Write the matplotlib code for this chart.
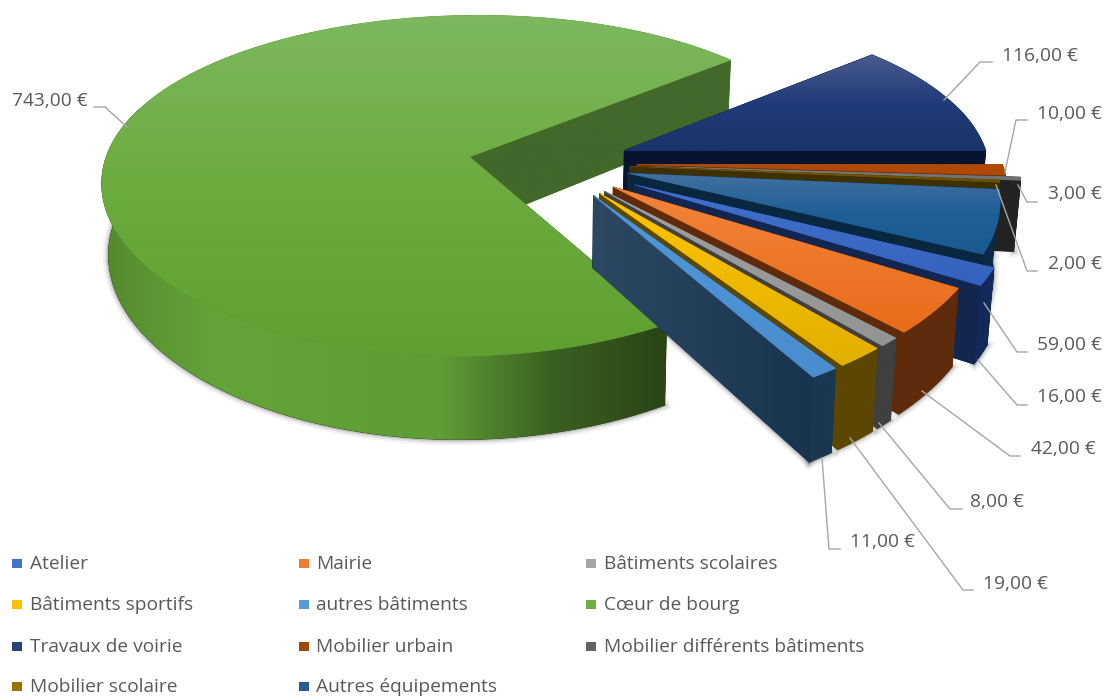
import matplotlib
matplotlib.use("Agg")
import matplotlib.pyplot as plt
import numpy as np
from matplotlib.colors import LinearSegmentedColormap
from matplotlib.patches import Polygon, Rectangle

plt.rcParams['font.family'] = ['Open Sans', 'DejaVu Sans']

categories = ["Atelier", "Mairie", "Bâtiments scolaires", "Bâtiments sportifs", "autres bâtiments",
              "Cœur de bourg", "Travaux de voirie", "Mobilier urbain", "Mobilier différents bâtiments",
              "Mobilier scolaire", "Autres équipements"]
values = [16, 42, 8, 19, 11, 743, 116, 10, 3, 2, 59]
legend_colors = ["#4472C4", "#ED7D31", "#A5A5A5", "#FFC000", "#5B9BD5", "#70AD47",
                 "#264478", "#9E480E", "#636363", "#997300", "#255E91"]

# shading of each slice: top gradient, outer wall, cut face
top_stops = [["#4272cc", "#3461bd"], ["#f2843a", "#e86c1a"], ["#a0a0a0", "#949494"],
             ["#ffc400", "#e2b000"], ["#4f97da", "#4a8dce"], ["#7db85f", "#6cab3e", "#60a033"],
             ["#4a5c8c", "#1f3b7a", "#1a3568"], ["#b34a08", "#b04808"], ["#808080", "#707070"],
             ["#7f6000", "#6a5000"], ["#44709f", "#1f5f98", "#185a90"]]
wall_stops = [["#12295a", "#12295a"], ["#5e2b0b", "#5e2b0b"], ["#404040", "#404040"],
              ["#5c4700", "#5c4700"], ["#1a3852", "#1a3852"],
              ["#558a2e", "#64a438", "#60a036", "#5f9d35", "#3a6020", "#2a4415"],
              ["#0a1a3c", "#0a1a3c"], ["#7a3206", "#7a3206"], ["#232323", "#232323"],
              ["#3f3000", "#3f3000"], ["#0b2a48", "#0b2a48"]]
cut_stops = [["#13264f", "#13264f"], ["#5e2b0b", "#5e2b0b"], ["#404040", "#404040"],
             ["#5c4700", "#5c4700"], ["#2d4863", "#17344f"], ["#42682a", "#42682a"],
             ["#071430", "#071430"], ["#7a3206", "#7a3206"], ["#232323", "#232323"],
             ["#3f3000", "#3f3000"], ["#0a2740", "#0a2740"]]

first_slice_angle = 116.0
draw_order = [5, 6, 7, 8, 9, 10, 0, 1, 2, 3, 4]

# projection
cx, cy = 549.0, 163.0
radius = 365.0
explode = [96, 81, 81, 81, 81, 81, 81, 88, 102, 81, 81]
tilt = 0.459
persp_x = 0.13
persp_y = 0.17
height = 70.0
lean = 0.015

# label text, x left, y centre, then leader line points
labels = [
    ("743,00 €", 12, 100, [(127, 127), (105, 107), (94, 107)]),
    ("116,00 €", 1002, 55, [(944, 100), (980, 62), (992, 62)]),
    ("10,00 €", 1037, 113, [(1005, 172), (1016, 120), (1027, 120)]),
    ("3,00 €", 1048, 193, [(1018, 185), (1027, 202), (1037, 202)]),
    ("2,00 €", 1048, 263, [(996, 185), (1027, 271), (1037, 271)]),
    ("59,00 €", 1037, 344, [(984, 303), (1017, 352), (1027, 352)]),
    ("16,00 €", 1037, 396, [(978, 360), (1017, 405), (1027, 405)]),
    ("42,00 €", 1031, 448, [(922, 391), (1010, 456), (1020, 456)]),
    ("8,00 €", 970, 501, [(879, 423), (950, 509), (962, 509)]),
    ("19,00 €", 983, 583, [(850, 438), (963, 590), (973, 590)]),
    ("11,00 €", 850, 541, [(822, 458), (829, 549), (840, 549)]),
]
legend_cols = [12, 299, 586]
legend_rows = [563, 604, 646, 686]


def project(x, y, z=0.0):
    sx = 1.0 / (1.0 + persp_x * y / radius)
    sy = 1.0 / (1.0 + persp_y * y / radius)
    return cx + x * sx * (1 - lean * z / height), cy - tilt * y * sy + z * sy


def gradient_fill(pts, stops, zorder, horizontal=False):
    pts = np.asarray(pts)
    # solid base under the gradient so no seam shows between faces
    ax.add_patch(Polygon(pts, closed=True, facecolor=stops[-1], edgecolor=stops[-1], lw=0.5, zorder=zorder))
    poly = Polygon(pts, closed=True, facecolor="none", edgecolor="none", zorder=zorder)
    ax.add_patch(poly)
    cmap = LinearSegmentedColormap.from_list("shade", stops)
    grad = np.linspace(0, 1, 256)
    grad = grad.reshape(1, -1) if horizontal else grad.reshape(-1, 1)
    im = ax.imshow(grad, cmap=cmap, aspect="auto", zorder=zorder, interpolation="bilinear",
                   extent=(pts[:, 0].min(), pts[:, 0].max(), pts[:, 1].max(), pts[:, 1].min()))
    im.set_clip_path(poly)


fig = plt.figure(figsize=(11.13, 6.98), dpi=100)
ax = fig.add_axes([0, 0, 1, 1])

total = sum(values)
angles = {}
a = 90.0 - first_slice_angle
for i, v in enumerate(values):
    angles[i] = (np.radians(a), np.radians(a - v / total * 360.0))
    a -= v / total * 360.0

zo = 2
for i in draw_order:
    a1, a2 = angles[i]
    mid = (a1 + a2) / 2
    ox = explode[i] * np.cos(mid)
    oy = explode[i] * np.sin(mid)
    t = np.linspace(a1, a2, max(12, int((a1 - a2) * 60)))
    xs = ox + radius * np.cos(t)
    ys = oy + radius * np.sin(t)
    top_x, top_y = project(np.r_[ox, xs], np.r_[oy, ys])
    rim_x, rim_y = project(xs, ys)
    low_x, low_y = project(xs, ys, height)

    # soft shadow under the base
    for lw, al in [(8, 0.05), (5, 0.08), (2.5, 0.14)]:
        ax.plot(low_x, low_y, color="#000000", lw=lw, alpha=al, zorder=1)
        if i == 4:
            ax.plot(*project(np.array([ox, xs[-1]]), np.array([oy, ys[-1]]), height),
                    color="#000000", lw=lw, alpha=al, zorder=1)

    # hidden cut face first, visible one after the wall
    for edge in (0, -1):
        quad = [project(ox, oy), project(xs[edge], ys[edge]),
                project(xs[edge], ys[edge], height), project(ox, oy, height)]
        if edge == -1:
            zo_cut = zo + 1
        else:
            zo_cut = zo
        gradient_fill(quad, cut_stops[i], zo_cut, horizontal=True)

    # outer wall
    keep = ys < 0.35 * radius
    if keep.sum() > 1:
        wall = np.r_[np.c_[rim_x[keep], rim_y[keep]], np.c_[low_x[keep], low_y[keep]][::-1]]
        gradient_fill(wall, wall_stops[i], zo + 0.5, horizontal=True)

    # top face with a vertical gradient
    gradient_fill(np.c_[top_x, top_y], top_stops[i], zo + 1.5)
    zo += 2

ax.set_xlim(0, 1113)
ax.set_ylim(698, 0)
ax.axis("off")

for text, tx, ty, pts in labels:
    ax.text(tx, ty + 1, text, fontsize=13.8, color="#595959", va="center", ha="left", zorder=50)
    ax.plot([p[0] for p in pts], [p[1] for p in pts], color="#a6a6a6", lw=1.0, zorder=49)

for n, name in enumerate(categories):
    lx = legend_cols[n % 3]
    ly = legend_rows[n // 3]
    ax.add_patch(Rectangle((lx, ly - 4.5), 9.5, 9.5, facecolor=legend_colors[n], edgecolor="none", zorder=50))
    ax.text(lx + 17.5, ly + 1, name, fontsize=13.8, color="#595959", va="center", ha="left", zorder=50)

fig.savefig("out.png", dpi=100)
